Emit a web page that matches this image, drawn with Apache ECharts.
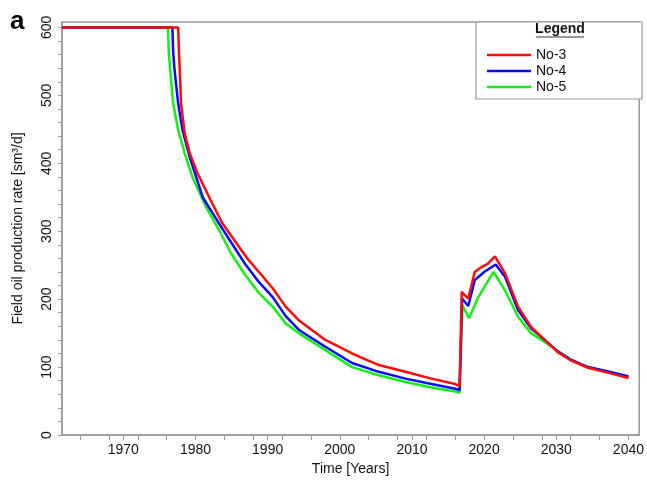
<!DOCTYPE html>
<html>
<head>
<meta charset="utf-8">
<script src="https://cdn.jsdelivr.net/npm/echarts@6/dist/echarts.min.js"></script>
<style>html,body{margin:0;padding:0;background:#fff}#chart{width:647px;height:486px}</style>
</head>
<body>
<div id="chart"></div>
<script>
// ---- data ----
const seriesNames = ['No-3', 'No-4', 'No-5'];

const yearsNo3 = [1961.5, 1977.6, 1977.7, 1977.85, 1978.0, 1978.5, 1979.2, 1980.3, 1981.9, 1983.7, 1986.1, 1987.4, 1988.8, 1990.7, 1992.5, 1994.3, 1998.0, 2001.7, 2005.4, 2009.1, 2012.7, 2016.0, 2016.6, 2016.9, 2017.1, 2017.8, 2018.7, 2019.6, 2020.5, 2021.5, 2022.9, 2024.7, 2026.5, 2028.4, 2030.2, 2032.0, 2034.4, 2037.8, 2040.0];
const valuesNo3 = [600, 600, 565, 530, 488, 444, 415, 385, 350, 312, 276, 257, 240, 216, 189, 169, 140, 120, 103, 93, 83, 75, 72, 211, 208, 201, 240, 247, 252, 263, 238, 189, 159, 140, 122, 110, 99, 90, 84];

const yearsNo4 = [1961.5, 1976.8, 1976.9, 1977.1, 1977.6, 1978.2, 1979.2, 1981.0, 1983.1, 1985.4, 1986.8, 1988.8, 1990.7, 1992.5, 1994.3, 1998.0, 2001.7, 2005.4, 2009.1, 2012.7, 2016.0, 2016.6, 2016.95, 2017.8, 2018.7, 2020.0, 2021.6, 2022.9, 2024.7, 2026.5, 2028.4, 2030.2, 2032.0, 2034.4, 2037.8, 2040.0];
const valuesNo4 = [600, 600, 565, 537, 488, 449, 409, 350, 314, 276, 253, 225, 203, 175, 155, 130, 106, 93, 83, 75, 68, 66, 201, 190, 228, 240, 251, 233, 184, 157, 140, 123, 111, 100, 92, 86];

const yearsNo5 = [1961.5, 1976.2, 1976.3, 1976.9, 1977.6, 1978.5, 1979.6, 1981.5, 1983.3, 1984.9, 1986.8, 1988.8, 1990.7, 1992.5, 1994.3, 1998.0, 2001.7, 2005.4, 2009.1, 2012.7, 2016.0, 2016.6, 2017.0, 2017.9, 2019.2, 2021.3, 2022.9, 2024.7, 2026.5, 2028.4, 2030.2, 2032.0, 2034.4, 2037.8, 2040.0];
const valuesNo5 = [600, 600, 562, 488, 449, 415, 379, 335, 301, 268, 237, 209, 189, 164, 150, 125, 100, 88, 78, 70, 64, 62, 191, 172, 203, 240, 213, 174, 150, 137, 124, 111, 100, 91, 85];

const xLabelValues = [1970, 1980, 1990, 2000, 2010, 2020, 2030, 2040];
const xTickValues = [1964, 1968, 1970, 1972, 1976, 1980, 1984, 1988, 1990, 1992, 1996, 2000, 2004, 2008, 2010, 2012, 2016, 2020, 2024, 2028, 2030, 2032, 2036, 2040];
const yLabelValues = [0, 100, 200, 300, 400, 500, 600];
const yTickValues = [0, 20, 40, 60, 80, 100, 120, 140, 160, 180, 200, 220, 240, 260, 280, 300, 320, 340, 360, 380, 400, 420, 440, 460, 480, 500, 520, 540, 560, 580, 600];

// ---- chart ----
const pair = (xs, ys) => xs.map((x, i) => [x, ys[i]]);
const colors = { 'No-3': '#ff0a0a', 'No-4': '#0a0aff', 'No-5': '#14f014' };
const dataMap = {
  'No-3': pair(yearsNo3, valuesNo3),
  'No-4': pair(yearsNo4, valuesNo4),
  'No-5': pair(yearsNo5, valuesNo5)
};
const font = 'Liberation Sans, Arial, sans-serif';
const axisGray = '#9a9a9a';

const chart = echarts.init(document.getElementById('chart'), null, { renderer: 'canvas' });
chart.setOption({
  animation: false,
  backgroundColor: '#fff',
  grid: { left: 62, right: 5, top: 22, bottom: 51, show: true, borderColor: axisGray, borderWidth: 1.5 },
  xAxis: {
    type: 'value', min: 1961.5, max: 2041.5,
    name: 'Time [Years]', nameLocation: 'middle', nameGap: 27,
    nameTextStyle: { fontFamily: font, fontSize: 14, color: '#111' },
    axisLine: { lineStyle: { color: axisGray, width: 1.5 } },
    axisTick: { show: true, length: 5, lineStyle: { color: axisGray }, customValues: xTickValues },
    axisLabel: { fontFamily: font, fontSize: 14, color: '#111', margin: 8, customValues: xLabelValues, formatter: v => String(Math.round(v)) },
    splitLine: { show: false }
  },
  yAxis: {
    type: 'value', min: 0, max: 608,
    name: 'Field oil production rate [sm\u00b3/d]', nameLocation: 'middle', nameGap: 37,
    nameTextStyle: { fontFamily: font, fontSize: 14, color: '#111' },
    axisLine: { show: true, lineStyle: { color: axisGray, width: 1.5 } },
    axisTick: { show: true, length: 4, lineStyle: { color: axisGray }, customValues: yTickValues },
    axisLabel: { fontFamily: font, fontSize: 14, color: '#111', rotate: 90, margin: 8, customValues: yLabelValues, formatter: v => String(Math.round(v)) },
    splitLine: { show: false }
  },
  legend: {
    data: seriesNames.map(n => ({ name: n, icon: 'rect', itemStyle: { color: colors[n] } })),
    orient: 'vertical', left: 482, top: 43,
    itemWidth: 44, itemHeight: 2.5, itemGap: 2,
    textStyle: { fontFamily: font, fontSize: 14, color: '#111', lineHeight: 14 },
    selectedMode: false
  },
  graphic: [
    { type: 'rect', z: 0, shape: { x: 476, y: 22, width: 166, height: 77 }, style: { fill: '#fff', stroke: axisGray, lineWidth: 1.2 } },
    { type: 'text', z: 1, style: { x: 560, y: 29, text: 'Legend', font: 'bold 14px ' + font, fill: '#111', textAlign: 'center', textVerticalAlign: 'middle' } },
    { type: 'line', z: 1, shape: { x1: 536, y1: 37, x2: 584, y2: 37 }, style: { stroke: '#777', lineWidth: 1.5 } },
    { type: 'text', z: 1, style: { x: 10, y: 22, text: 'a', font: 'bold 26px ' + font, fill: '#000', textVerticalAlign: 'middle' } }
  ],
  series: ['No-5', 'No-4', 'No-3'].map(n => ({
    name: n, type: 'line', data: dataMap[n], showSymbol: false, symbol: 'none',
    smooth: false, clip: true,
    lineStyle: { color: colors[n], width: 2.5 }, itemStyle: { color: colors[n] }
  }))
});
</script>
</body>
</html>
